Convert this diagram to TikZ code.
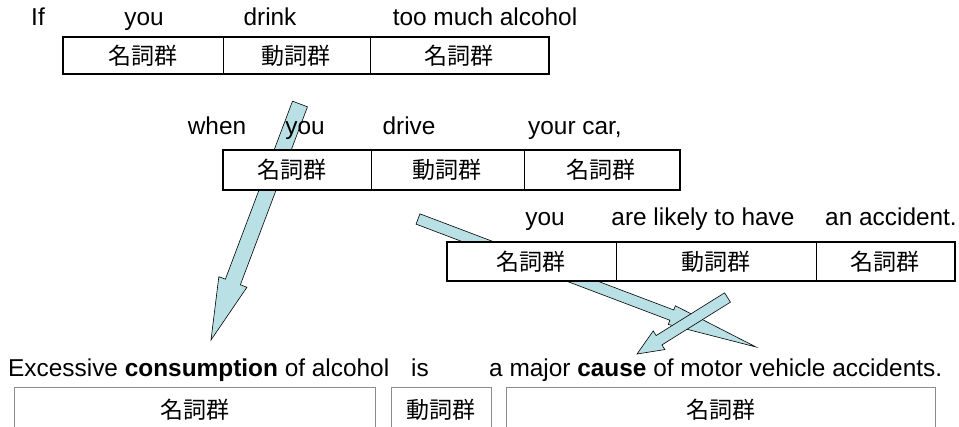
\documentclass[tikz,border=0pt]{standalone}
\usepackage{fontspec}
\setmainfont{Liberation Sans}
\newfontfamily\jpfont{Noto Sans CJK JP}
\usetikzlibrary{calc}
\definecolor{arrowfill}{RGB}{185,224,228}
\definecolor{boxgray}{RGB}{140,140,140}
\tikzset{
  word/.style={anchor=base, inner sep=0pt, font=\fontsize{24.4}{28}\selectfont},
  jpw/.style={inner sep=0pt, font=\jpfont\fontsize{23}{26}\selectfont},
  bigbox/.style={draw=black, line width=2.4pt, fill=white},
  divider/.style={draw=black, line width=0.9pt},
  fatarrow/.style={fill=arrowfill, draw=black, line width=0.6pt, line join=miter},
  openbox/.style={draw=boxgray, line width=1pt},
}
% #1 tail, #2 tip, #3 half shaft, #4 half head, #5 head length
\newcommand\blockarrow[5]{%
  \coordinate (hb) at ($(#2)!#5!(#1)$);
  \draw[fatarrow] ($(#1)!#3!90:(#2)$) -- ($(hb)!#3!-90:(#1)$) -- ($(hb)!#4!-90:(#1)$)
     -- (#2) -- ($(hb)!#4!90:(#1)$) -- ($(hb)!#3!90:(#1)$) -- ($(#1)!#3!-90:(#2)$) -- cycle;
}
\begin{document}
\begin{tikzpicture}[x=1pt,y=-1pt]
\useasboundingbox (0,0) rectangle (959,427);
% arrows
\coordinate (a1t) at (300,104); \coordinate (a1h) at (211,340);
\coordinate (a2t) at (418,219); \coordinate (a2h) at (756,347);
\coordinate (a3t) at (727.5,297.5); \coordinate (a3h) at (637,354);
\blockarrow{a1t}{a1h}{8pt}{15pt}{62pt}
\blockarrow{a2t}{a2h}{5.5pt}{10pt}{90pt}
\blockarrow{a3t}{a3h}{5.5pt}{11pt}{26pt}
% row 1
\node[word] (w1a) at (38,26) {If};
\node[word] (w1b) at (144,26) {you};
\node[word] (w1c) at (270,26) {drink};
\node[word] (w1d) at (485,26) {too much alcohol};
\path[bigbox] (63,37) rectangle (549,74);
\draw[divider] (223,37) -- (223,74);
\draw[divider] (370,37) -- (370,74);
\node[jpw] (j1a) at (143,56) {名詞群};
\node[jpw] (j1b) at (296,56) {動詞群};
\node[jpw] (j1c) at (459,56) {名詞群};
% row 2
\node[word] (w2a) at (217,135) {when};
\node[word] (w2b) at (305,135) {you};
\node[word] (w2c) at (409,135) {drive};
\node[word, anchor=base west] (w2d) at (528,135) {your car,};
\path[bigbox] (223,150) rectangle (680,190);
\draw[divider] (371,150) -- (371,190);
\draw[divider] (524,150) -- (524,190);
\node[jpw] (j2a) at (292,170) {名詞群};
\node[jpw] (j2b) at (447,170) {動詞群};
\node[jpw] (j2c) at (601,170) {名詞群};
% row 3
\node[word] (w3a) at (545,226) {you};
\node[word] (w3b) at (703,226) {are likely to have};
\node[word, anchor=base east] (w3c) at (957,226) {an accident.};
\path[bigbox] (447,242) rectangle (955,281);
\draw[divider] (616,242) -- (616,281);
\draw[divider] (816,242) -- (816,281);
\node[jpw] (j3a) at (531,262) {名詞群};
\node[jpw] (j3b) at (716,262) {動詞群};
\node[jpw] (j3c) at (885,262) {名詞群};
% bottom
\node[word, anchor=base west] (w4a) at (8,377) {Excessive \textbf{consumption} of alcohol};
\node[word] (w4b) at (420,377) {is};
\node[word, anchor=base west] (w4c) at (489,377) {a major \textbf{cause} of motor vehicle accidents.};
\draw[openbox] (14,430) -- (14,388) -- (375,388) -- (375,430);
\draw[openbox] (391,430) -- (391,388) -- (491,388) -- (491,430);
\draw[openbox] (506,430) -- (506,388) -- (935,388) -- (935,430);
\node[jpw] (j4a) at (195,410) {名詞群};
\node[jpw] (j4b) at (441,410) {動詞群};
\node[jpw] (j4c) at (721,410) {名詞群};
\end{tikzpicture}
\end{document}
